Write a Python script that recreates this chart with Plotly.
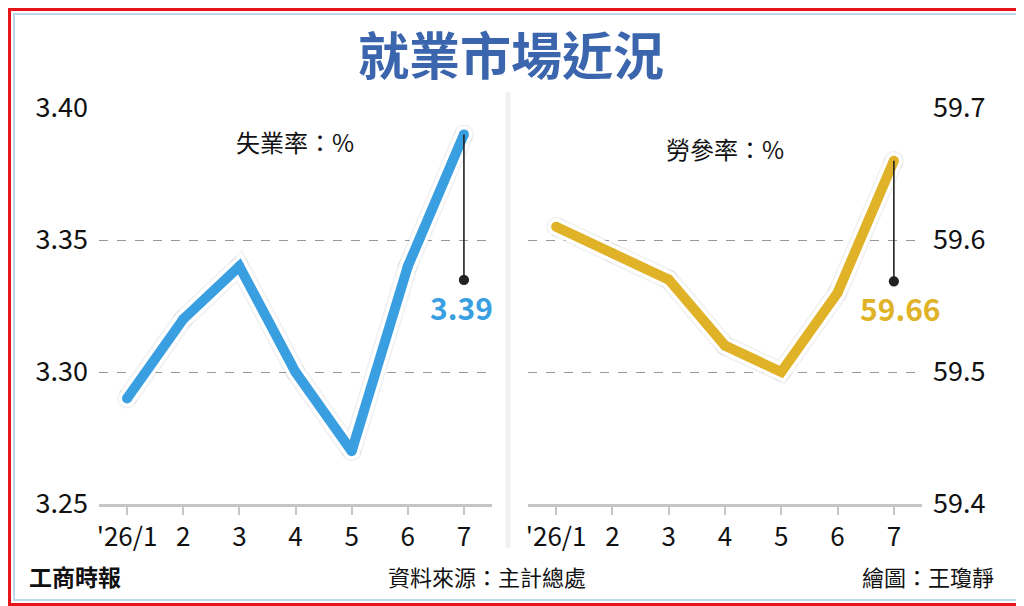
import plotly.graph_objects as go

# data
months = [1, 2, 3, 4, 5, 6, 7]
month_labels = ["'26/1", "2", "3", "4", "5", "6", "7"]
unemployment = [3.29, 3.32, 3.34, 3.30, 3.27, 3.34, 3.39]
participation = [59.61, 59.59, 59.57, 59.52, 59.50, 59.56, 59.66]
unemp_ticks = [3.25, 3.30, 3.35, 3.40]
unemp_tick_text = ["3.25", "3.30", "3.35", "3.40"]
part_ticks = [59.4, 59.5, 59.6, 59.7]
part_tick_text = ["59.4", "59.5", "59.6", "59.7"]

BLUE = "#3a9fe0"
GOLD = "#e0b228"
TITLE_BLUE = "#3b66ae"
FONT = "Noto Sans CJK TC"

# page body has an 8px margin, so the figure fills the rest of the window
W, H, OFF = 1016, 598, 8


def px(x):
    return (x - OFF) / W


def py(y):
    return 1 - (y - OFF) / H


fig = go.Figure()


def add_series(xs, ys, color, xref, yref):
    # soft shadow, white halo, then the coloured line (markers round the joints/ends)
    for w, c in [(20, "rgba(0,0,0,0.06)"), (17, "white"), (10, color)]:
        fig.add_trace(go.Scatter(x=xs, y=ys, mode="lines+markers", xaxis=xref, yaxis=yref,
                                 line=dict(color=c, width=w),
                                 marker=dict(color=c, size=w, line=dict(width=0)),
                                 cliponaxis=False, hoverinfo="skip", showlegend=False))


add_series(months, unemployment, BLUE, "x", "y")
add_series(months, participation, GOLD, "x2", "y2")

axis_font = dict(family=FONT, size=27, color="#111")
xcommon = dict(range=[0.5, 7.5], tickvals=months, ticktext=month_labels,
               showgrid=False, zeroline=False, showline=True, linecolor="#c6c6c6",
               linewidth=3, ticks="outside", ticklen=8, tickwidth=2, tickcolor="#c6c6c6",
               tickfont=dict(family=FONT, size=26, color="#111"), automargin=False,
               fixedrange=True)
ycommon = dict(showgrid=True, griddash="dash", gridcolor="#9a9a9a", gridwidth=1,
               zeroline=False, showline=False, ticks="", tickfont=axis_font,
               ticklabelstandoff=10, automargin=False, fixedrange=True)

fig.update_layout(
    width=W, height=H,
    margin=dict(l=0, r=0, t=0, b=0, pad=0),
    paper_bgcolor="white", plot_bgcolor="rgba(0,0,0,0)",
    font=dict(family=FONT),
    xaxis=dict(domain=[px(99), px(492)], anchor="y", **xcommon),
    yaxis=dict(domain=[py(504), py(108)], anchor="x", range=[3.25, 3.40],
               tickvals=unemp_ticks, ticktext=unemp_tick_text, **ycommon),
    xaxis2=dict(domain=[px(528), px(922)], anchor="y2", **xcommon),
    yaxis2=dict(domain=[py(504), py(108)], anchor="x2", side="right",
                range=[59.4, 59.7], tickvals=part_ticks, ticktext=part_tick_text, **ycommon),
)

# frame: red outer border, light blue inner border, panel divider
fig.add_shape(type="rect", xref="paper", yref="paper", x0=0.0015, x1=0.9985, y0=0.0025,
              y1=0.9975, line=dict(color="#e8141c", width=3), layer="above")
fig.add_shape(type="rect", xref="paper", yref="paper", x0=6 / W, x1=1 - 6 / W, y0=6 / H,
              y1=1 - 6 / H, line=dict(color="#bcd8ec", width=2), layer="below")
fig.add_shape(type="line", xref="paper", yref="paper", x0=px(508), x1=px(508),
              y0=py(548), y1=py(92), line=dict(color="#f1f1f1", width=5), layer="below")


def label(x, y, text, size, color="#111", xanchor="center", family=FONT):
    fig.add_annotation(xref="paper", yref="paper", x=px(x), y=py(y), xanchor=xanchor,
                       yanchor="middle", showarrow=False, text=text,
                       font=dict(family=family, size=size, color=color))


# title and panel labels
label(511, 53, "<b>就業市場近況</b>", 51, TITLE_BLUE)
label(295, 142, "失業率：%", 24)
label(725, 148, "勞參率：%", 24)

# leader lines and latest values
for xr, yr, ys, ay, shift, dx, color in [("x", "y", unemployment, 147, -173, -2, BLUE),
                                          ("x2", "y2", participation, 122, -147, 7, GOLD)]:
    fig.add_annotation(x=months[-1], y=ys[-1], xref=xr, yref=yr, text="",
                       showarrow=True, ax=0, ay=ay, arrowside="start", startarrowhead=6,
                       startarrowsize=1.6, arrowwidth=1.6, arrowcolor="#222")
    fig.add_annotation(x=months[-1], y=ys[-1], xref=xr, yref=yr, yanchor="middle",
                       text="<b>%.2f</b>" % ys[-1], showarrow=False, yshift=shift,
                       xshift=dx, font=dict(family=FONT, size=30, color=color))

# footer
label(27, 576, "<b>工商時報</b>", 23, xanchor="left")
label(487, 576, "資料來源：主計總處", 22)
label(996, 576, "繪圖：王瓊靜", 22, xanchor="right")

fig.write_html("out.html")
